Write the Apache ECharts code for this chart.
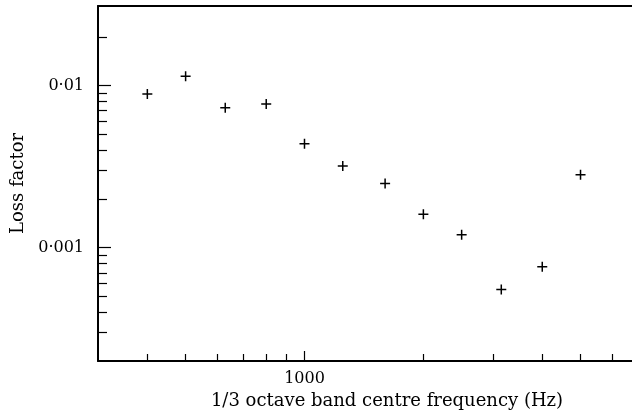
<!DOCTYPE html>
<html><head><meta charset="utf-8">
<script src="https://cdn.jsdelivr.net/npm/echarts@6/dist/echarts.min.js"></script>
<style>html,body{margin:0;padding:0;background:#fff}#c{width:632px;height:412px}</style>
</head><body><div id="c"></div>
<script>
const frequencies = [400, 500, 630, 800, 1000, 1250, 1600, 2000, 2500, 3150, 4000, 5000];
const lossFactor = [0.00887, 0.01141, 0.00731, 0.00770, 0.00438, 0.00319, 0.00249, 0.001606, 0.001203, 0.000553, 0.000763, 0.00282];
const xMajorTicks = [1000];
const xTickLabels = ['1000'];
const xMinorTicks = [400, 500, 600, 700, 800, 900, 2000, 3000, 4000, 5000, 6000];
const yMajorTicks = [0.001, 0.01];
const yTickLabels = ['0·001', '0·01'];
const yMinorTicks = [0.0003, 0.0004, 0.0005, 0.0006, 0.0007, 0.0008, 0.0009,
  0.002, 0.003, 0.004, 0.005, 0.006, 0.007, 0.008, 0.009, 0.02];
const xTitle = '1/3 octave band centre frequency (Hz)';
const yTitle = 'Loss factor';

function labelFor(ticks, labels) {
  return function (v) {
    for (let i = 0; i < ticks.length; i++) {
      if (Math.abs(v - ticks[i]) / ticks[i] < 1e-6) return labels[i];
    }
    return '';
  };
}
const FONT = 'DejaVu Serif';
const X_MIN = 300, X_MAX = 6750, Y_MIN = 0.0002, Y_MAX = 0.031;
const black = '#000';

const chart = echarts.init(document.getElementById('c'), null, {renderer: 'canvas'});
chart.setOption({
  animation: false,
  backgroundColor: '#fff',
  grid: {left: 98, right: 0, top: 6, bottom: 51, containLabel: false, outerBoundsMode: 'none'},
  xAxis: [
    {
      type: 'log', logBase: 10, min: X_MIN, max: X_MAX, position: 'bottom',
      axisLine: {show: true, lineStyle: {color: black, width: 2}},
      axisTick: {show: true, inside: true, length: 10, customValues: xMajorTicks, lineStyle: {color: black, width: 1.2}},
      minorTick: {show: false},
      axisLabel: {show: true, customValues: xMajorTicks, formatter: labelFor(xMajorTicks, xTickLabels),
        margin: 10, color: black, fontFamily: FONT, fontSize: 16},
      splitLine: {show: false},
      name: xTitle, nameLocation: 'middle', nameGap: 26,
      nameTextStyle: {color: black, fontFamily: FONT, fontSize: 18, padding: [0, 0, 0, 44]}
    },
    {
      type: 'log', logBase: 10, min: X_MIN, max: X_MAX, position: 'bottom',
      axisLine: {show: false},
      axisTick: {show: true, inside: true, length: 7, customValues: xMinorTicks, lineStyle: {color: black, width: 1.2}},
      axisLabel: {show: false},
      splitLine: {show: false}
    },
    {
      type: 'log', logBase: 10, min: X_MIN, max: X_MAX, position: 'top',
      axisLine: {show: true, lineStyle: {color: black, width: 2}},
      axisTick: {show: false}, axisLabel: {show: false}, splitLine: {show: false}
    }
  ],
  yAxis: [
    {
      type: 'log', logBase: 10, min: Y_MIN, max: Y_MAX, position: 'left',
      axisLine: {show: true, lineStyle: {color: black, width: 2}},
      axisTick: {show: true, inside: true, length: 13, customValues: yMajorTicks, lineStyle: {color: black, width: 1.2}},
      axisLabel: {show: true, customValues: yMajorTicks, formatter: labelFor(yMajorTicks, yTickLabels),
        margin: 14, color: black, fontFamily: FONT, fontSize: 16},
      splitLine: {show: false},
      name: yTitle, nameLocation: 'middle', nameGap: 71,
      nameTextStyle: {color: black, fontFamily: FONT, fontSize: 18, padding: [0, 0, 0, 0]}
    },
    {
      type: 'log', logBase: 10, min: Y_MIN, max: Y_MAX, position: 'left',
      axisLine: {show: false},
      axisTick: {show: true, inside: true, length: 9, customValues: yMinorTicks, lineStyle: {color: black, width: 1.2}},
      axisLabel: {show: false}, splitLine: {show: false}
    }
  ],
  series: [{
    type: 'scatter', xAxisIndex: 0, yAxisIndex: 0,
    symbol: 'path://M0,4.25H10V5.75H0Z M4.25,0H5.75V10H4.25Z',
    symbolSize: 10,
    itemStyle: {color: black, opacity: 1},
    data: frequencies.map((f, i) => [f, lossFactor[i]])
  }]
});
</script></body></html>
